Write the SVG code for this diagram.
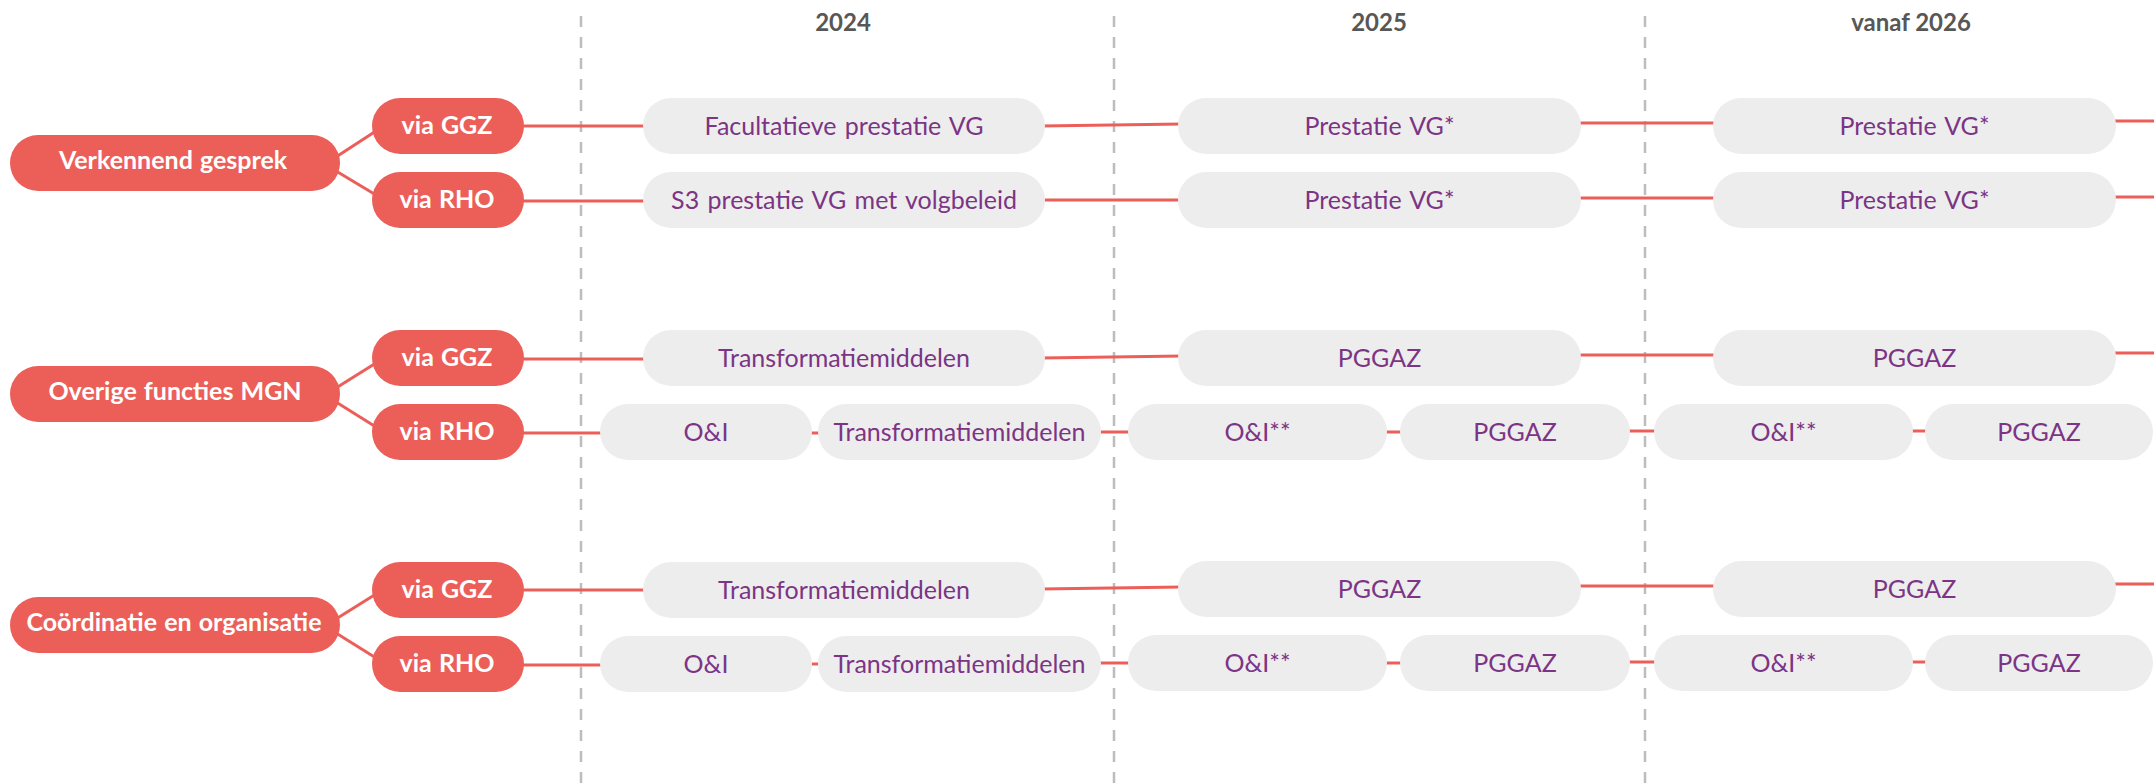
<svg xmlns="http://www.w3.org/2000/svg" width="2154" height="784" viewBox="0 0 2154 784">
<style>
.bg{fill:#ffffff}
.grid{stroke:#bdbdbd;stroke-width:2.5;stroke-dasharray:11 10;fill:none}
.year{font-family:Lato,"Liberation Sans",sans-serif;font-weight:700;font-size:24px;fill:#575757;text-anchor:middle}
.main rect,.via rect{fill:#ec5f59}
.main text{font-family:Lato,"Liberation Sans",sans-serif;font-weight:700;font-size:25px;word-spacing:1px;fill:#ffffff;text-anchor:middle}
.via text{font-family:Lato,"Liberation Sans",sans-serif;font-weight:700;font-size:25px;word-spacing:1px;fill:#ffffff;text-anchor:middle}
.box rect{fill:#ededed}
.box text{font-family:Lato,"Liberation Sans",sans-serif;font-size:25px;word-spacing:2px;fill:#7c3485;text-anchor:middle}
.conn line{stroke:#ec5f59;stroke-width:3;fill:none}
</style>
<rect class="bg" x="0" y="0" width="2154" height="784"/>
<g id="grid">
<line class="grid" x1="581" y1="16" x2="581" y2="784"/>
<line class="grid" x1="1114" y1="16" x2="1114" y2="784"/>
<line class="grid" x1="1645" y1="16" x2="1645" y2="784"/>
</g>
<g id="years">
<text class="year" x="843" y="31">2024</text>
<text class="year" x="1379" y="31">2025</text>
<text class="year" x="1911" y="31">vanaf 2026</text>
</g>
<g id="connectors" class="conn">
<line x1="336" y1="157" x2="376" y2="131"/>
<line x1="336" y1="171" x2="376" y2="195"/>
<line x1="520" y1="126" x2="647" y2="126"/>
<line x1="1041" y1="126" x2="1182" y2="124"/>
<line x1="1577" y1="123" x2="1717" y2="123"/>
<line x1="2112" y1="121" x2="2154" y2="121"/>
<line x1="520" y1="201" x2="647" y2="201"/>
<line x1="1041" y1="200" x2="1182" y2="200"/>
<line x1="1577" y1="198" x2="1717" y2="198"/>
<line x1="2112" y1="197" x2="2154" y2="197"/>
<line x1="336" y1="388" x2="376" y2="363"/>
<line x1="336" y1="402" x2="376" y2="427"/>
<line x1="520" y1="359" x2="647" y2="359"/>
<line x1="1041" y1="358" x2="1182" y2="356"/>
<line x1="1577" y1="355" x2="1717" y2="355"/>
<line x1="2112" y1="353" x2="2154" y2="353"/>
<line x1="520" y1="433" x2="604" y2="433"/>
<line x1="808" y1="433" x2="822" y2="433"/>
<line x1="1097" y1="432" x2="1132" y2="432"/>
<line x1="1383" y1="432" x2="1404" y2="432"/>
<line x1="1626" y1="431" x2="1658" y2="431"/>
<line x1="1909" y1="431" x2="1929" y2="431"/>
<line x1="336" y1="619" x2="376" y2="594"/>
<line x1="336" y1="633" x2="376" y2="658"/>
<line x1="520" y1="590" x2="647" y2="590"/>
<line x1="1041" y1="589" x2="1182" y2="587"/>
<line x1="1577" y1="586" x2="1717" y2="586"/>
<line x1="2112" y1="584" x2="2154" y2="584"/>
<line x1="520" y1="665" x2="604" y2="665"/>
<line x1="808" y1="664" x2="822" y2="664"/>
<line x1="1097" y1="663" x2="1132" y2="663"/>
<line x1="1383" y1="663" x2="1404" y2="663"/>
<line x1="1626" y1="662" x2="1658" y2="662"/>
<line x1="1909" y1="662" x2="1929" y2="662"/>
</g>
<g id="main1" class="main"><rect x="10" y="135" width="330" height="56" rx="28"/><text x="173" y="169">Verkennend gesprek</text></g>
<g id="main2" class="main"><rect x="10" y="366" width="330" height="56" rx="28"/><text x="175" y="400">Overige functies MGN</text></g>
<g id="main3" class="main"><rect x="10" y="597" width="330" height="56" rx="28"/><text x="174" y="631">Coördinatie en organisatie</text></g>
<g id="via1ggz" class="via"><rect x="372" y="98" width="152" height="56" rx="28"/><text x="447" y="134">via GGZ</text></g>
<g id="via1rho" class="via"><rect x="372" y="172" width="152" height="56" rx="28"/><text x="447" y="208">via RHO</text></g>
<g id="via2ggz" class="via"><rect x="372" y="330" width="152" height="56" rx="28"/><text x="447" y="366">via GGZ</text></g>
<g id="via2rho" class="via"><rect x="372" y="404" width="152" height="56" rx="28"/><text x="447" y="440">via RHO</text></g>
<g id="via3ggz" class="via"><rect x="372" y="562" width="152" height="56" rx="28"/><text x="447" y="598">via GGZ</text></g>
<g id="via3rho" class="via"><rect x="372" y="636" width="152" height="56" rx="28"/><text x="447" y="672">via RHO</text></g>
<g id="r1g2024" class="box"><rect x="643" y="98" width="402" height="56" rx="28"/><text x="844" y="135">Facultatieve prestatie VG</text></g>
<g id="r1g2025" class="box"><rect x="1178" y="98" width="403" height="56" rx="28"/><text x="1379.5" y="135">Prestatie VG*</text></g>
<g id="r1g2026" class="box"><rect x="1713" y="98" width="403" height="56" rx="28"/><text x="1914.5" y="135">Prestatie VG*</text></g>
<g id="r1r2024" class="box"><rect x="643" y="172" width="402" height="56" rx="28"/><text x="844" y="209">S3 prestatie VG met volgbeleid</text></g>
<g id="r1r2025" class="box"><rect x="1178" y="172" width="403" height="56" rx="28"/><text x="1379.5" y="209">Prestatie VG*</text></g>
<g id="r1r2026" class="box"><rect x="1713" y="172" width="403" height="56" rx="28"/><text x="1914.5" y="209">Prestatie VG*</text></g>
<g id="r2g2024" class="box"><rect x="643" y="330" width="402" height="56" rx="28"/><text x="844" y="367">Transformatiemiddelen</text></g>
<g id="r2g2025" class="box"><rect x="1178" y="330" width="403" height="56" rx="28"/><text x="1379.5" y="367">PGGAZ</text></g>
<g id="r2g2026" class="box"><rect x="1713" y="330" width="403" height="56" rx="28"/><text x="1914.5" y="367">PGGAZ</text></g>
<g id="r2r2024a" class="box"><rect x="600" y="404" width="212" height="56" rx="28"/><text x="706" y="441">O&amp;I</text></g>
<g id="r2r2024b" class="box"><rect x="818" y="404" width="283" height="56" rx="28"/><text x="959.5" y="441">Transformatiemiddelen</text></g>
<g id="r2r2025a" class="box"><rect x="1128" y="404" width="259" height="56" rx="28"/><text x="1257.5" y="441">O&amp;I**</text></g>
<g id="r2r2025b" class="box"><rect x="1400" y="404" width="230" height="56" rx="28"/><text x="1515" y="441">PGGAZ</text></g>
<g id="r2r2026a" class="box"><rect x="1654" y="404" width="259" height="56" rx="28"/><text x="1783.5" y="441">O&amp;I**</text></g>
<g id="r2r2026b" class="box"><rect x="1925" y="404" width="228" height="56" rx="28"/><text x="2039" y="441">PGGAZ</text></g>
<g id="r3g2024" class="box"><rect x="643" y="562" width="402" height="56" rx="28"/><text x="844" y="599">Transformatiemiddelen</text></g>
<g id="r3g2025" class="box"><rect x="1178" y="561" width="403" height="56" rx="28"/><text x="1379.5" y="598">PGGAZ</text></g>
<g id="r3g2026" class="box"><rect x="1713" y="561" width="403" height="56" rx="28"/><text x="1914.5" y="598">PGGAZ</text></g>
<g id="r3r2024a" class="box"><rect x="600" y="636" width="212" height="56" rx="28"/><text x="706" y="673">O&amp;I</text></g>
<g id="r3r2024b" class="box"><rect x="818" y="636" width="283" height="56" rx="28"/><text x="959.5" y="673">Transformatiemiddelen</text></g>
<g id="r3r2025a" class="box"><rect x="1128" y="635" width="259" height="56" rx="28"/><text x="1257.5" y="672">O&amp;I**</text></g>
<g id="r3r2025b" class="box"><rect x="1400" y="635" width="230" height="56" rx="28"/><text x="1515" y="672">PGGAZ</text></g>
<g id="r3r2026a" class="box"><rect x="1654" y="635" width="259" height="56" rx="28"/><text x="1783.5" y="672">O&amp;I**</text></g>
<g id="r3r2026b" class="box"><rect x="1925" y="635" width="228" height="56" rx="28"/><text x="2039" y="672">PGGAZ</text></g>
</svg>
